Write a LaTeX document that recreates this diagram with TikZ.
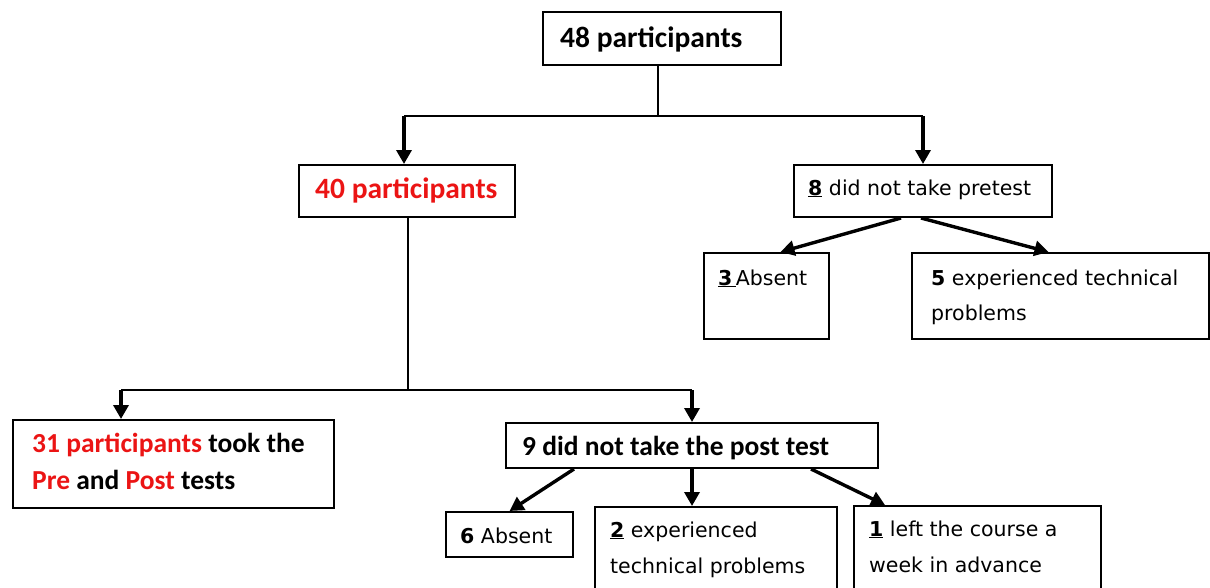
\documentclass[tikz,border=0pt]{standalone}
\usepackage{fontspec}
\setmainfont{DejaVu Sans}
\newfontfamily\calfont{Carlito}
\usetikzlibrary{arrows.meta,calc}
\definecolor{myred}{RGB}{235,20,20}
\begin{document}
\begin{tikzpicture}[x=1pt,y=-1pt,
  box/.style={draw=black,line width=2pt,rectangle,inner sep=0pt,anchor=north west},
  lbl/.style={anchor=base west,inner sep=0pt},
  conn/.style={line width=2pt},
  arr/.style={line width=3.4pt,-{Triangle[width=15pt,length=14pt]}},
  reg/.style={font=\fontsize{20.5}{24}\selectfont},
  bld/.style={font=\calfont\bfseries\fontsize{27.5}{32}\selectfont},
  big/.style={font=\calfont\bfseries\fontsize{29.5}{34}\selectfont}]
\useasboundingbox (0,0) rectangle (1210,587);
\clip (0,0) rectangle (1210,587);
% boxes
\node[box,minimum width=238pt,minimum height=53pt] (n48) at (542,11) {};
\node[box,minimum width=216pt,minimum height=52pt] (n40) at (298,164) {};
\node[box,minimum width=258pt,minimum height=52pt] (n8) at (793,164) {};
\node[box,minimum width=125pt,minimum height=86pt] (n3) at (703,252) {};
\node[box,minimum width=297pt,minimum height=86pt] (n5) at (911,252) {};
\node[box,minimum width=321pt,minimum height=88pt] (n31) at (12,419) {};
\node[box,minimum width=372pt,minimum height=45pt] (n9) at (505,422) {};
\node[box,minimum width=127pt,minimum height=45pt] (n6) at (445,511) {};
\node[box,minimum width=242pt,minimum height=100pt] (n2) at (594,506) {};
\node[box,minimum width=247pt,minimum height=100pt] (n1) at (853,505) {};
% texts
\node[lbl,big] (t48) at (560,47) {48 participants};
\node[lbl,big,text=myred] (t40) at (315,198) {40 participants};
\node[lbl,reg] (t8) at (808,195) {\underline{\textbf{8}} did not take pretest};
\node[lbl,reg] (t3) at (718,285) {\underline{\textbf{3}\,}Absent};
\node[lbl,reg] (t5a) at (931,285) {\textbf{5} experienced technical};
\node[lbl,reg] (t5b) at (931,320) {problems};
\node[lbl,bld] (t31a) at (32,452) {\textcolor{myred}{31 participants} took the};
\node[lbl,bld] (t31b) at (32,489) {\textcolor{myred}{Pre} and \textcolor{myred}{Post} tests};
\node[lbl,bld] (t9) at (522,455) {9 did not take the post test};
\node[lbl,reg] (t6) at (460,543) {\textbf{6} Absent};
\node[lbl,reg] (t2a) at (610,537) {\underline{\textbf{2}} experienced};
\node[lbl,reg] (t2b) at (610,573) {technical problems};
\node[lbl,reg] (t1a) at (869,536) {\underline{\textbf{1}} left the course a};
\node[lbl,reg] (t1b) at (869,572) {week in advance};
% connectors, top level
\coordinate (j1) at (658,116);
\coordinate (h40) at ($(n40.north |- j1)+(-3,0)$);
\coordinate (h8) at (n8.north |- j1);
\draw[conn] (j1 |- n48.south) -- (j1);
\draw[conn] (h40) -- (h8);
\draw[arr] (h40) -- (h40 |- n40.north);
\draw[arr] (h8) -- (n8.north);
% pretest branches
\draw[arr] ($(n8.south)+(-22,0)$) -- ($(n3.north)+(14,0)$);
\draw[arr] ($(n8.south)+(-2,0)$) -- ($(n5.north)+(-12,0)$);
% second level
\coordinate (j2) at (408,390);
\coordinate (h31) at (121,390);
\coordinate (h9) at (n9.north |- j2);
\draw[conn] (j2 |- n40.south) -- (j2);
\draw[conn] (h31) -- (h9);
\draw[arr] (h31) -- (h31 |- n31.north);
\draw[arr] (h9) -- (n9.north);
% posttest branches
\draw[arr] ($(n9.south)+(-118,0)$) -- (n6.north);
\draw[arr] (n9.south) -- (n9.south |- n2.north);
\draw[arr] ($(n9.south)+(119,0)$) -- ($(n1.north west)+(32,0)$);
\end{tikzpicture}
\end{document}
